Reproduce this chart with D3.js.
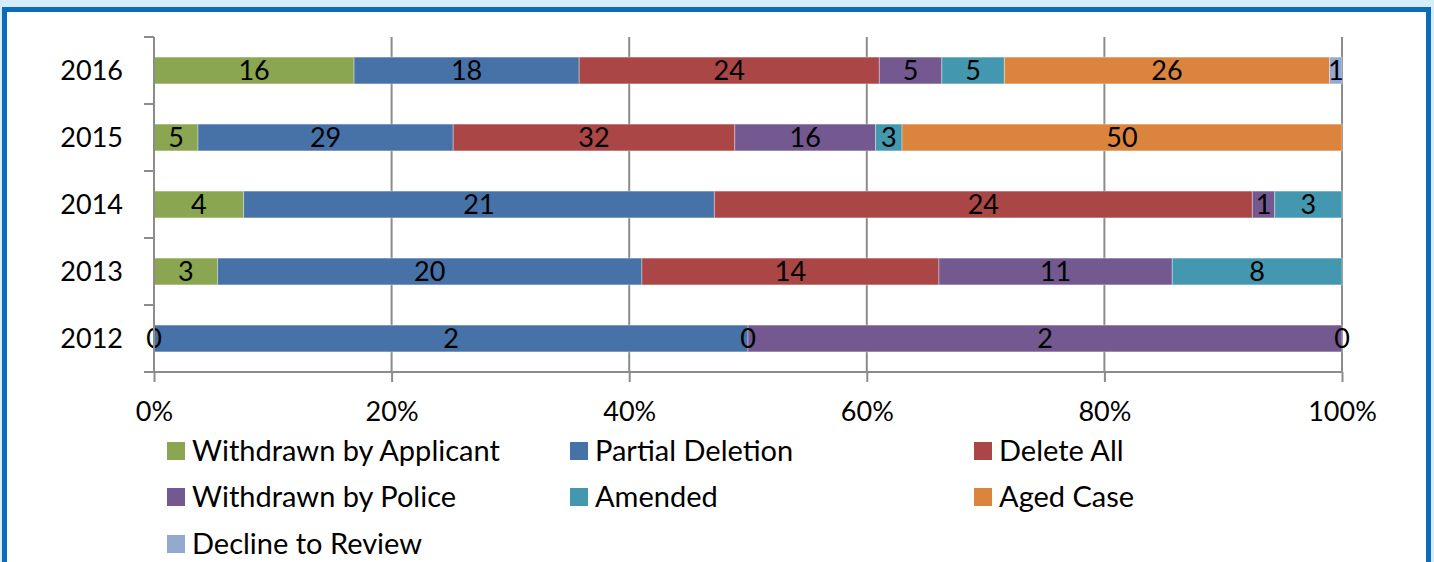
<!DOCTYPE html>
<html>
<head>
<meta charset="utf-8">
<script src="https://cdn.jsdelivr.net/npm/d3@7"></script>
<style>
  body { margin: 0; background: #d6ecf9; overflow: hidden; }
  #frame {
    position: absolute; left: 2px; top: 7px; width: 1419px; height: 600px;
    border: 5px solid #0b6dba; background: #fff;
  }
  svg { position: absolute; left: 0; top: 0; }
  text { font-family: Lato, "Open Sans", sans-serif; fill: #000; }
</style>
</head>
<body>
<div id="frame"></div>
<div id="chart"></div>
<script>
const years = ["2016", "2015", "2014", "2013", "2012"];
const seriesNames = ["Withdrawn by Applicant", "Partial Deletion", "Delete All",
  "Withdrawn by Police", "Amended", "Aged Case", "Decline to Review"];
const seriesColors = ["#8aa650", "#4672a8", "#aa4645", "#73598f", "#4398af", "#db843d", "#93a9cf"];

// values per series, in the order of years (null = not present)
const withdrawnApplicant = [16, 5, 4, 3, 0];
const partialDeletion    = [18, 29, 21, 20, 2];
const deleteAll          = [24, 32, 24, 14, 0];
const withdrawnPolice    = [5, 16, 1, 11, 2];
const amended            = [5, 3, 3, 8, 0];
const agedCase           = [26, 50, null, null, null];
const declineReview      = [1, null, null, null, null];

const xTickValues = [0, 0.2, 0.4, 0.6, 0.8, 1];

const allSeries = [withdrawnApplicant, partialDeletion, deleteAll, withdrawnPolice,
  amended, agedCase, declineReview];

const width = 1434, height = 562;
const numFont = "27px";
const svg = d3.select("#chart").append("svg")
  .attr("width", width)
  .attr("height", height);

const x = d3.scaleLinear().domain([0, 1]).range([154, 1342]);
const y = d3.scaleBand().domain(years).range([37, 372])
  .paddingInner(0.6).paddingOuter(0.3);

// build stacked (normalised) segments
const segments = [];
years.forEach((yr, i) => {
  const total = d3.sum(allSeries, s => s[i] || 0);
  let acc = 0;
  allSeries.forEach((s, k) => {
    const v = s[i];
    if (v === null) return;
    segments.push({ year: yr, key: k, value: v, x0: acc / total, x1: (acc + v) / total });
    acc += v;
  });
});

// gridlines
svg.append("g")
  .selectAll("line")
  .data(xTickValues.slice(1))
  .join("line")
  .attr("x1", d => x(d)).attr("x2", d => x(d))
  .attr("y1", y.range()[0]).attr("y2", y.range()[1])
  .attr("stroke", "#8c8c8c")
  .attr("stroke-width", 2);

// bars
svg.append("g")
  .selectAll("rect")
  .data(segments)
  .join("rect")
  .attr("x", d => x(d.x0))
  .attr("y", d => y(d.year))
  .attr("width", d => x(d.x1) - x(d.x0))
  .attr("height", y.bandwidth())
  .attr("fill", d => seriesColors[d.key])
  .attr("stroke", "rgba(255,255,255,0.35)")
  .attr("stroke-width", 1);

// value labels
svg.append("g")
  .selectAll("text")
  .data(segments)
  .join("text")
  .attr("x", d => (x(d.x0) + x(d.x1)) / 2)
  .attr("y", d => y(d.year) + y.bandwidth() / 2)
  .attr("dy", "0.36em")
  .attr("text-anchor", "middle")
  .style("font-size", numFont)
  .text(d => d.value);

// y axis line + boundary ticks
const gap = (y.step() - y.bandwidth()) / 2;
const bounds = years.map(d => y(d) - gap);
const yAxisG = svg.append("g").attr("stroke", "#8c8c8c").attr("stroke-width", 2);
yAxisG.append("line")
  .attr("x1", x(0)).attr("x2", x(0))
  .attr("y1", y.range()[0]).attr("y2", y.range()[1]);
yAxisG.selectAll("line.tick")
  .data(bounds)
  .join("line")
  .attr("class", "tick")
  .attr("x1", x(0) - 10).attr("x2", x(0))
  .attr("y1", d => d).attr("y2", d => d);

svg.append("g")
  .selectAll("text")
  .data(years)
  .join("text")
  .attr("x", 123)
  .attr("y", d => y(d) + y.bandwidth() / 2)
  .attr("dy", "0.36em")
  .attr("text-anchor", "end")
  .style("font-size", numFont)
  .text(d => d);

// x axis
const xAxis = d3.axisBottom(x)
  .tickValues(xTickValues)
  .tickFormat(d3.format(".0%"))
  .tickSize(10)
  .tickPadding(20);

const xAxisG = svg.append("g")
  .attr("transform", `translate(0,${y.range()[1]})`)
  .call(xAxis);
xAxisG.select(".domain")
  .attr("d", `M${x(0) - 10},0H${x(1)}`)
  .attr("stroke", "#8c8c8c").attr("stroke-width", 2);
xAxisG.selectAll(".tick line").attr("stroke", "#8c8c8c").attr("stroke-width", 2);
xAxisG.selectAll(".tick text")
  .style("font-size", numFont)
  .style("font-family", "Lato, 'Open Sans', sans-serif")
  .attr("fill", "#000");

// legend
const legendCols = [167, 570, 974];
const legendRows = [451, 497, 544];
const legend = svg.append("g")
  .selectAll("g")
  .data(seriesNames)
  .join("g")
  .attr("transform", (d, i) => `translate(${legendCols[i % 3]},${legendRows[Math.floor(i / 3)]})`);
legend.append("rect")
  .attr("x", 0).attr("y", -9)
  .attr("width", 18).attr("height", 18)
  .attr("fill", (d, i) => seriesColors[i]);
legend.append("text")
  .attr("x", 25)
  .attr("dy", "0.36em")
  .style("font-size", "29px")
  .text(d => d);
</script>
</body>
</html>
